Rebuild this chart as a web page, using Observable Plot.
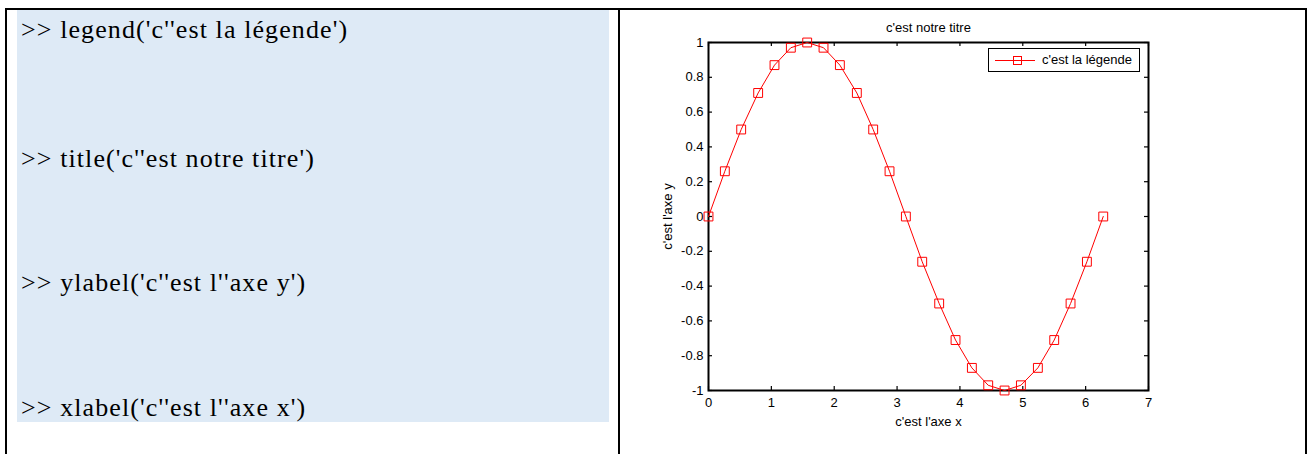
<!DOCTYPE html>
<html>
<head>
<meta charset="utf-8">
<script src="https://cdn.jsdelivr.net/npm/d3@7"></script>
<script src="https://cdn.jsdelivr.net/npm/@observablehq/plot@0.6"></script>
<style>
  html, body { margin: 0; padding: 0; background: #fff; overflow: hidden; }
  #page { position: relative; width: 1308px; height: 454px; }
  .bline { position: absolute; background: #000; }
  #cell { position: absolute; left: 17px; top: 10px; width: 592px; height: 412px; background: #DEEAF6; }
  .cmd { position: absolute; left: 21px; font-family: "Liberation Serif", "DejaVu Serif", serif; font-size: 26px; letter-spacing: 1.1px; color: #000; line-height: 1; white-space: pre; }
  #chart { position: absolute; left: 620px; top: 0; }
  #legend { position: absolute; left: 988px; top: 48px; width: 152px; height: 24px; box-sizing: border-box; border: 1px solid #000; background: #fff; }
  #legend svg { position: absolute; left: 0; top: 0; }
  #legend span { position: absolute; left: 53px; top: 4px; font-family: "Liberation Sans", Arial, sans-serif; font-size: 13px; line-height: 13px; color: #000; white-space: pre; }
</style>
</head>
<body>
<div id="page">
  <div class="bline" style="left:5px;top:8px;width:1302px;height:2px"></div>
  <div class="bline" style="left:5px;top:8px;width:2px;height:446px"></div>
  <div class="bline" style="left:618px;top:8px;width:2px;height:446px"></div>
  <div class="bline" style="left:1305px;top:8px;width:2px;height:446px"></div>
  <div id="cell"></div>
  <div id="cmds"></div>
  <div id="chart"></div>
  <div id="legend"></div>
</div>
<script>
// Commands typed in the left cell
const commands = [
  ">> legend('c''est la légende')",
  ">> title('c''est notre titre')",
  ">> ylabel('c''est l''axe y')",
  ">> xlabel('c''est l''axe x')"
];
// Chart texts
const titleText = "c'est notre titre";
const xLabel = "c'est l'axe x";
const yLabel = "c'est l'axe y";
const legendLabel = "c'est la légende";

// Series values
const xValues = [0, 0.26, 0.52, 0.79, 1.05, 1.31, 1.57, 1.83, 2.09, 2.36, 2.62, 2.88, 3.14,
                 3.40, 3.67, 3.93, 4.19, 4.45, 4.71, 4.97, 5.24, 5.50, 5.76, 6.02, 6.28];
const yValues = [0, 0.26, 0.5, 0.71, 0.87, 0.97, 1, 0.97, 0.87, 0.71, 0.5, 0.26, 0,
                 -0.26, -0.5, -0.71, -0.87, -0.97, -1, -0.97, -0.87, -0.71, -0.5, -0.26, 0];

// Tick values
const xTicks = [0, 1, 2, 3, 4, 5, 6, 7];
const yTicks = [-1, -0.8, -0.6, -0.4, -0.2, 0, 0.2, 0.4, 0.6, 0.8, 1];

// Left cell commands
const cmdTops = [17, 146, 270, 395];
const cmdsDiv = document.getElementById("cmds");
commands.forEach((c, i) => {
  const d = document.createElement("div");
  d.className = "cmd";
  d.style.top = cmdTops[i] + "px";
  d.textContent = c;
  cmdsDiv.appendChild(d);
});

const data = xValues.map((x, i) => ({x, y: yValues[i]}));

const W = 688, H = 454, mL = 88, mR = 160, mT = 42, mB = 64;
const pw = W - mL - mR, ph = H - mT - mB;
const tick = 4;

const chart = Plot.plot({
  width: W,
  height: H,
  marginLeft: mL,
  marginRight: mR,
  marginTop: mT,
  marginBottom: mB,
  x: {domain: [0, 7]},
  y: {domain: [-1, 1]},
  style: {fontFamily: "'Liberation Sans', Arial, sans-serif", fontSize: "13px", color: "#000", background: "transparent"},
  marks: [
    Plot.tickX(xTicks, {x: d => d, insetTop: ph - tick, stroke: "#000", strokeWidth: 1.2}),
    Plot.tickX(xTicks, {x: d => d, insetBottom: ph - tick, stroke: "#000", strokeWidth: 1.2}),
    Plot.tickY(yTicks, {y: d => d, insetRight: pw - tick, stroke: "#000", strokeWidth: 1.2}),
    Plot.tickY(yTicks, {y: d => d, insetLeft: pw - tick, stroke: "#000", strokeWidth: 1.2}),
    Plot.frame({stroke: "#000", strokeWidth: 2}),
    Plot.axisX(xTicks, {tickSize: 0, tickPadding: 7, label: null, tickFormat: d => String(d), fill: "#000"}),
    Plot.axisY(yTicks, {tickSize: 0, tickPadding: 5, label: null, tickFormat: d => String(d), fill: "#000"}),
    Plot.line(data, {x: "x", y: "y", stroke: "#ff0000", strokeWidth: 1}),
    Plot.dot(data, {x: "x", y: "y", symbol: "square", r: 5, stroke: "#ff0000", fill: "none", strokeWidth: 1}),
    Plot.text([titleText], {frameAnchor: "top", lineAnchor: "middle", textAnchor: "middle", dy: -15, fill: "#000"}),
    Plot.text([xLabel], {frameAnchor: "bottom", lineAnchor: "middle", textAnchor: "middle", dy: 31, fill: "#000"}),
    Plot.text([yLabel], {frameAnchor: "left", lineAnchor: "middle", textAnchor: "middle", dx: -41, rotate: -90, fill: "#000"})
  ]
});
document.getElementById("chart").appendChild(chart);

// Legend
const legend = document.getElementById("legend");
const ls = d3.create("svg").attr("width", 52).attr("height", 22);
ls.append("line").attr("x1", 6).attr("x2", 46).attr("y1", 11.5).attr("y2", 11.5)
  .attr("stroke", "#ff0000").attr("stroke-width", 1);
ls.append("rect").attr("x", 24.5).attr("y", 7.5).attr("width", 8).attr("height", 8)
  .attr("fill", "none").attr("stroke", "#ff0000").attr("stroke-width", 1);
legend.appendChild(ls.node());
const lt = document.createElement("span");
lt.textContent = legendLabel;
legend.appendChild(lt);
</script>
</body>
</html>
